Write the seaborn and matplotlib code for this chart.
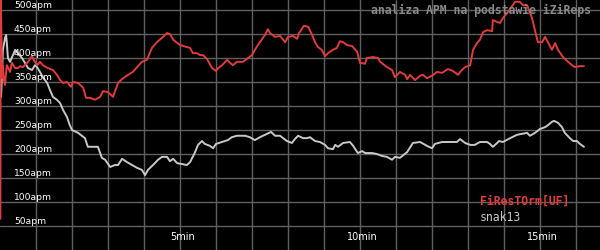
import numpy as np
import pandas as pd
import matplotlib
matplotlib.use("Agg")
import matplotlib.pyplot as plt
import seaborn as sns

# ---- data (minutes, APM) ----
red_name = "FiResTOrm[UF]"
gray_name = "snak13"

red_min = [0.01, 0.02, 0.06, 0.08, 0.11, 0.14, 0.17, 0.19, 0.22, 0.28, 0.33, 0.42, 0.5, 0.56, 0.64,
           0.78, 0.89, 0.94, 1.03, 1.11, 1.19, 1.33, 1.47, 1.58, 1.67, 1.75, 1.86, 1.97, 2.03, 2.17,
           2.31, 2.39, 2.5, 2.64, 2.78, 2.86, 3.0, 3.14, 3.28, 3.39, 3.56, 3.69, 3.81, 3.94, 4.08,
           4.22, 4.36, 4.53, 4.64, 4.72, 4.81, 5.0, 5.19, 5.28, 5.36, 5.47, 5.56, 5.64, 5.75, 5.89,
           6.0, 6.06, 6.17, 6.31, 6.39, 6.47, 6.58, 6.75, 6.89, 7.0, 7.08, 7.22, 7.36, 7.44, 7.5,
           7.64, 7.78, 7.92, 8.0, 8.14, 8.25, 8.31, 8.44, 8.56, 8.67, 8.75, 8.83, 8.94, 9.03, 9.11,
           9.25, 9.36, 9.44, 9.53, 9.64, 9.78, 9.92, 10.0, 10.14, 10.19, 10.36, 10.5, 10.56, 10.75,
           10.89, 10.97, 11.06, 11.11, 11.25, 11.31, 11.39, 11.53, 11.67, 11.75, 11.86, 12.0, 12.14,
           12.28, 12.44, 12.58, 12.72, 12.83, 12.92, 13.06, 13.14, 13.25, 13.33, 13.42, 13.53, 13.67,
           13.69, 13.81, 13.89, 13.97, 14.11, 14.31, 14.44, 14.53, 14.64, 14.78, 14.86, 14.94, 15.06,
           15.14, 15.22, 15.33, 15.42, 15.5, 15.64, 15.78, 15.89, 15.97, 16.11, 16.22]
red_apm = [65, 531, 358, 385, 354, 344, 371, 385, 381, 371, 390, 379, 379, 383, 381,
           392, 404, 396, 385, 392, 385, 379, 375, 365, 354, 348, 350, 340, 350, 348,
           338, 317, 317, 313, 319, 331, 329, 319, 348, 356, 365, 371, 381, 392, 396,
           421, 433, 444, 452, 450, 438, 427, 423, 421, 410, 410, 406, 406, 398, 379,
           373, 379, 385, 396, 390, 385, 392, 392, 400, 406, 417, 433, 448, 460, 452,
           444, 446, 433, 444, 446, 440, 452, 467, 465, 448, 433, 423, 417, 404, 410,
           417, 421, 435, 433, 427, 425, 413, 390, 388, 400, 402, 400, 392, 381,
           375, 360, 367, 371, 365, 356, 365, 354, 363, 365, 358, 363, 371,
           369, 377, 373, 365, 375, 381, 385, 417, 431, 438, 454, 458, 456,
           479, 475, 473, 483, 496, 517, 517, 510, 510, 483, 458, 433, 433,
           444, 433, 417, 431, 417, 402, 392, 385, 381, 383, 383]

gray_min = [0.03, 0.06, 0.08, 0.14, 0.17, 0.19, 0.22, 0.28, 0.36, 0.42, 0.5, 0.61, 0.69, 0.78, 0.89,
            0.97, 1.03, 1.11, 1.19, 1.31, 1.39, 1.47, 1.58, 1.67, 1.75, 1.86, 1.94, 2.0, 2.17, 2.36,
            2.44, 2.58, 2.72, 2.83, 2.92, 3.06, 3.19, 3.28, 3.39, 3.53, 3.67, 3.81, 3.94, 4.03, 4.11,
            4.25, 4.39, 4.5, 4.64, 4.72, 4.81, 4.92, 5.06, 5.19, 5.28, 5.42, 5.5, 5.61, 5.69, 5.83,
            5.92, 6.0, 6.17, 6.33, 6.44, 6.58, 6.81, 6.94, 7.08, 7.22, 7.42, 7.53, 7.64, 7.78, 7.97,
            8.11, 8.19, 8.28, 8.42, 8.53, 8.61, 8.75, 8.89, 9.03, 9.11, 9.25, 9.31, 9.39, 9.53, 9.72,
            9.81, 9.94, 10.06, 10.14, 10.33, 10.47, 10.61, 10.75, 10.89, 10.97, 11.11, 11.31, 11.47,
            11.67, 11.86, 12.0, 12.08, 12.28, 12.5, 12.69, 12.78, 12.92, 13.06, 13.19, 13.33, 13.53,
            13.61, 13.69, 13.81, 13.86, 13.97, 14.17, 14.36, 14.5, 14.64, 14.72, 14.86, 15.0, 15.14,
            15.22, 15.33, 15.39, 15.5, 15.61, 15.69, 15.83, 15.92, 16.03, 16.11, 16.22]
gray_apm = [319, 375, 417, 442, 448, 431, 400, 392, 406, 417, 410, 400, 390, 379, 375,
            385, 381, 371, 360, 348, 333, 319, 313, 306, 292, 277, 260, 250, 244, 233,
            215, 215, 215, 192, 188, 173, 177, 177, 190, 183, 177, 171, 167, 156, 167,
            177, 188, 194, 194, 185, 190, 181, 179, 177, 183, 204, 219, 227, 221, 217,
            212, 221, 225, 229, 235, 238, 238, 235, 229, 235, 242, 246, 238, 238, 227,
            223, 231, 238, 233, 233, 235, 227, 225, 219, 212, 210, 219, 215, 223, 225,
            217, 202, 206, 202, 202, 200, 196, 194, 188, 194, 192, 204, 223,
            225, 217, 212, 221, 225, 225, 225, 231, 223, 219, 219, 225, 225,
            221, 215, 223, 227, 225, 233, 240, 242, 244, 238, 244, 252, 256,
            260, 267, 269, 265, 256, 244, 233, 227, 227, 221, 215]

y_ticks = [50, 100, 150, 200, 250, 300, 350, 400, 450, 500]
y_tick_labels = ["50apm", "100apm", "150apm", "200apm", "250apm", "300apm",
                 "350apm", "400apm", "450apm", "500apm"]
x_ticks = list(range(1, 17))
x_label_minutes = [5, 10, 15]
x_labels = ["5min", "10min", "15min"]
title = "analiza APM na podstawie iZiReps"

# ---- styling ----
RED = "#e23b3b"
GRAY = "#c8c8c8"
GRID = "#606060"
BG = "#000000"

sns.set_style("dark", {"axes.facecolor": BG, "figure.facecolor": BG})
plt.rcParams["font.family"] = ["DejaVu Sans"]

df = pd.concat([
    pd.DataFrame({"min": gray_min, "apm": gray_apm, "player": gray_name}),
    pd.DataFrame({"min": red_min, "apm": red_apm, "player": red_name}),
], ignore_index=True)

fig = plt.figure(figsize=(6, 2.5), dpi=100, facecolor=BG)
ax = fig.add_axes([0, 0, 1, 1])
ax.set_facecolor(BG)

sns.lineplot(data=df, x="min", y="apm", hue="player",
             palette={red_name: RED, gray_name: GRAY},
             hue_order=[gray_name, red_name],
             estimator=None, sort=False, legend=False,
             linewidth=1.4, ax=ax, zorder=3)

ax.set_xlim(0, 600 / 36)
ax.set_ylim(0, 520.83)
ax.set_xticks(x_ticks)
ax.set_yticks(y_ticks)
ax.set_xticklabels([])
ax.set_yticklabels([])
ax.tick_params(length=0)
ax.grid(True, color=GRID, linewidth=1.0, zorder=1)
ax.set_axisbelow(True)
for s in ax.spines.values():
    s.set_visible(False)
ax.set_xlabel("")
ax.set_ylabel("")

# y labels inside the plot, just above each grid line
ytrans = ax.get_yaxis_transform()
for v, lab in zip(y_ticks, y_tick_labels):
    ax.text(14 / 600, v + 4, lab, transform=ytrans, color="white",
            fontsize=6.6, ha="left", va="baseline", zorder=4)

# minute labels near the bottom
xtrans = ax.get_xaxis_transform()
for m, lab in zip(x_label_minutes, x_labels):
    ax.text(m + 0.06, 1 - 237 / 250, lab, transform=xtrans, color="white",
            fontsize=7, ha="center", va="center", zorder=4)

# title
ax.text(591 / 600, 1 - 10.5 / 250, title, transform=ax.transAxes,
        color="#8a8a8a", fontsize=8.3, family="DejaVu Sans Mono",
        fontweight="bold", ha="right", va="center", zorder=4)

# legend texts
ax.text(480 / 600, 1 - 201.5 / 250, red_name, transform=ax.transAxes,
        color=RED, fontsize=8.3, family="DejaVu Sans Mono",
        fontweight="bold", ha="left", va="center", zorder=4)
ax.text(480 / 600, 1 - 217.5 / 250, gray_name, transform=ax.transAxes,
        color=GRAY, fontsize=8.3, family="DejaVu Sans Mono",
        ha="left", va="center", zorder=4)

fig.savefig("out.png", dpi=100, facecolor=BG)
